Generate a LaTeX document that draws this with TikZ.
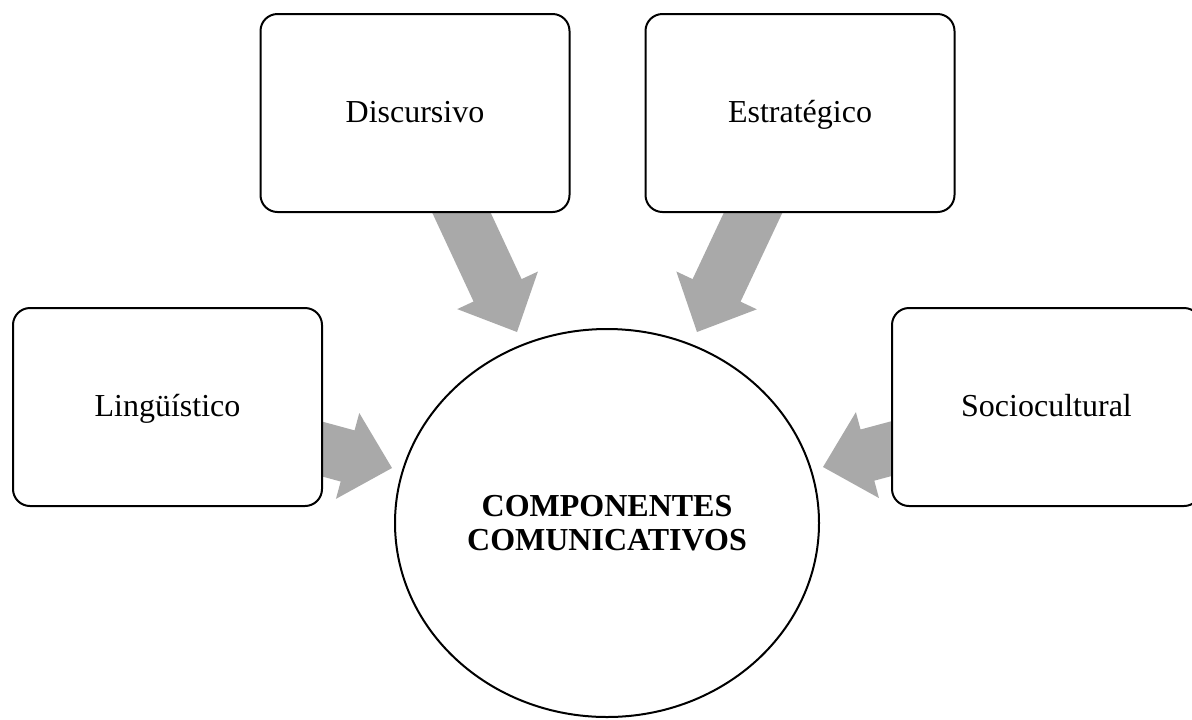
\documentclass[tikz,border=0pt]{standalone}
\usepackage{fontspec}
\setmainfont{Liberation Serif}
\usetikzlibrary{calc,shapes.geometric}
\pgfdeclarelayer{bg}
\pgfsetlayers{bg,main}
\definecolor{arrgray}{RGB}{169,169,169}
\newcommand{\blockarr}[2]{%
  \coordinate (nk) at ($(#2)!34.5pt!(#1)$);
  \fill[arrgray] ($(#1)!19.875pt!90:(#2)$) -- ($(nk)!19.875pt!90:(#2)$) -- ($(nk)!33.375pt!90:(#2)$) -- (#2)
    -- ($(nk)!33.375pt!-90:(#2)$) -- ($(nk)!19.875pt!-90:(#2)$) -- ($(#1)!19.875pt!-90:(#2)$) -- cycle;
}
\tikzset{
  compbox/.style={draw=black, line width=1.5pt, fill=white, rounded corners=12.75pt,
    minimum width=231.75pt, minimum height=148.5pt, inner sep=0pt,
    text height=18pt, text depth=3.75pt, font=\fontsize{24pt}{25.5pt}\selectfont},
  centre/.style={ellipse, draw=black, line width=1.5pt, fill=white,
    minimum width=318pt, minimum height=291pt, inner sep=0pt, align=center,
    font=\fontsize{24pt}{25.5pt}\selectfont\bfseries}
}
\begin{document}
\begin{tikzpicture}[x=0.75pt, y=-0.75pt]
\useasboundingbox (0,0) rectangle (1192,719);
\node[compbox] (D) at (415,113) {Discursivo};
\node[compbox] (E) at (800,113) {Estratégico};
\node[compbox] (L) at (167.5,407) {Lingüístico};
\node[compbox] (S) at (1046.5,407) {Sociocultural};
\node[centre] (C) at (607,523) {COMPONENTES\\COMUNICATIVOS};
\coordinate (tD) at (517,332);
\coordinate (tE) at (697,332);
\coordinate (tL) at (392,468);
\coordinate (tS) at (823,467);
\begin{pgfonlayer}{bg}
\blockarr{D.center}{tD}
\blockarr{E.center}{tE}
\blockarr{L.center}{tL}
\blockarr{S.center}{tS}
\end{pgfonlayer}
\end{tikzpicture}
\end{document}
